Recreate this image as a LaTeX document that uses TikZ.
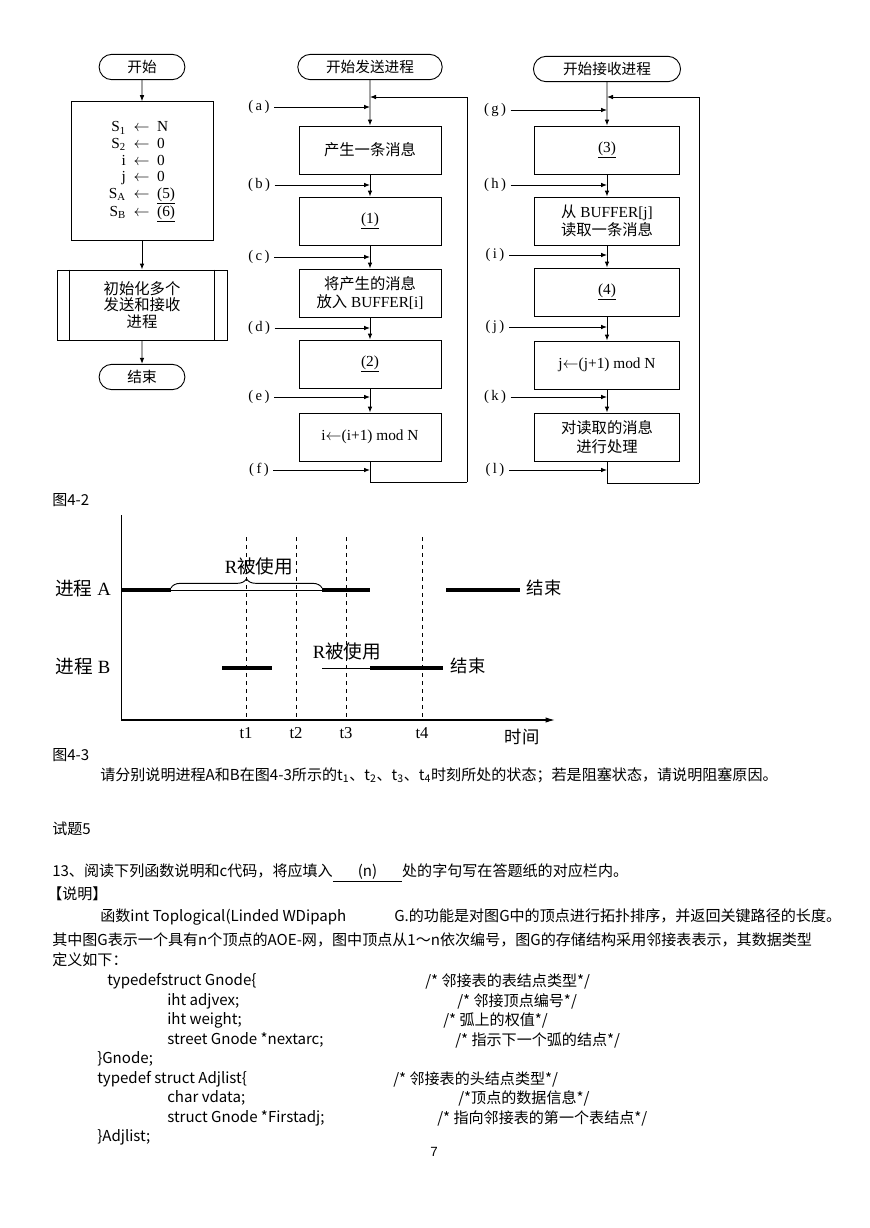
\documentclass[tikz,border=0pt]{standalone}
\usepackage{fontspec}
\setmainfont{Liberation Serif}
\newfontfamily\cjk{Noto Sans CJK SC}
\newfontfamily\pagefont{Liberation Sans}
\usetikzlibrary{arrows.meta,positioning,calc,shapes.misc,decorations.pathreplacing}

\begin{document}
\begin{tikzpicture}[x=0.75pt, y=-0.75pt,
  box/.style={draw, line width=0.7pt, minimum width=106.5pt, minimum height=36pt, align=center, font=\fontsize{11.5}{14}\selectfont},
  term/.style={draw, line width=0.7pt, rounded rectangle, minimum height=19pt, font=\cjk\fontsize{11}{12}\selectfont},
  lbl/.style={font=\fontsize{11}{12}\selectfont},
  arrow/.style={-{Latex[length=4.5pt,width=3.5pt]}, line width=0.7pt},
  line/.style={line width=0.7pt},
  txt/.style={anchor=west, inner sep=0pt, font=\cjk\fontsize{11.3}{13}\selectfont},
  thk/.style={line width=3pt},
  thn/.style={line width=0.6pt}
]
\fill[white] (0,0) rectangle (869,1228);
\useasboundingbox (0,0) rectangle (869,1228);

\node[term, minimum width=71pt] (st0) at (142,67) {开始};
\node[box, minimum height=104pt, font=\fontsize{11.5}{12.5}\selectfont] (init) at (142,171) {\begin{tabular}{@{}r@{\ \ }c@{\ \ }l@{}}
S\textsubscript{1} & $\leftarrow$ & N\\
S\textsubscript{2} & $\leftarrow$ & 0\\
i & $\leftarrow$ & 0\\
j & $\leftarrow$ & 0\\
S\textsubscript{A} & $\leftarrow$ & \underline{(5)}\\
S\textsubscript{B} & $\leftarrow$ & \underline{(6)}
\end{tabular}};
\node[box, minimum width=127.5pt, minimum height=52.5pt, font=\cjk\fontsize{11.5}{12.6}\selectfont] (setup) at (142,305) {初始化多个\\发送和接收\\进程};
\draw[line] ([xshift=9.75pt]setup.north west) -- ([xshift=9.75pt]setup.south west);
\draw[line] ([xshift=-9.75pt]setup.north east) -- ([xshift=-9.75pt]setup.south east);
\node[term, minimum width=71pt] (end0) at (142,377) {结束};
\draw[arrow] (st0) -- (init);
\draw[arrow] (init) -- (setup);
\draw[arrow] (setup) -- (end0);

\node[term, minimum width=115pt] (st1) at (370,67) {开始发送进程};
\node[box, font=\cjk\fontsize{11.5}{14}\selectfont] (send1) at (370,150) {产生一条消息};
\node[box] (send2) at (370,221) {\underline{(1)}};
\node[box] (send3) at (370,293) {{\cjk 将产生的消息}\\{\cjk 放入} BUFFER[i]};
\node[box] (send4) at (370,364) {\underline{(2)}};
\node[box] (send5) at (370,437) {i$\leftarrow$(i+1)\ mod N};
\draw[arrow] (st1) -- (send1);
\draw[arrow] (send1) -- (send2);
\draw[arrow] (send2) -- (send3);
\draw[arrow] (send3) -- (send4);
\draw[arrow] (send4) -- (send5);
\foreach \n/\y in {a/107,b/185,c/257,d/328,e/397,f/470} {
  \node[lbl] (l\n) at (259,\y) {(\,\n\,)};
  \coordinate (p\n) at (370,\y);
  \draw[arrow] (l\n) -- (p\n);
}
\coordinate (sbot) at (370,482);
\coordinate (scorner) at (467,482);
\coordinate (stop) at (370,97);
\draw[line] (send5) -- (sbot) -- (scorner);
\draw[arrow] (scorner) |- (stop);

\node[term, minimum width=117pt] (st2) at (607,69) {开始接收进程};
\node[box, minimum width=109pt] (recv1) at (607,150) {\underline{(3)}};
\node[box, minimum width=109pt] (recv2) at (607,221) {{\cjk 从} BUFFER[j]\\{\cjk 读取一条消息}};
\node[box, minimum width=109pt] (recv3) at (607,292) {\underline{(4)}};
\node[box, minimum width=109pt] (recv4) at (607,365) {j$\leftarrow$(j+1)\ mod N};
\node[box, minimum width=109pt, font=\cjk\fontsize{11.5}{14}\selectfont] (recv5) at (607,437) {对读取的消息\\进行处理};
\draw[arrow] (st2) -- (recv1);
\draw[arrow] (recv1) -- (recv2);
\draw[arrow] (recv2) -- (recv3);
\draw[arrow] (recv3) -- (recv4);
\draw[arrow] (recv4) -- (recv5);
\foreach \n/\y in {g/110,h/185,i/255,j/327,k/397,l/470} {
  \node[lbl] (l\n) at (495,\y) {(\,\n\,)};
  \coordinate (q\n) at (607,\y);
  \draw[arrow] (l\n) -- (q\n);
}
\coordinate (rbot) at (607,483);
\coordinate (rcorner) at (699,483);
\coordinate (rtop) at (607,97);
\draw[line] (recv5) -- (rbot) -- (rcorner);
\draw[arrow] (rcorner) |- (rtop);

\node[txt] (cap1) at (52,500) {图4-2};

\coordinate (orig) at (121,720);
\coordinate (ytop) at (121,515);
\coordinate (xend) at (555,720);
\draw[line] (ytop) -- (orig);
\draw[-{Latex[length=7pt,width=4pt]}, line width=0.9pt] (orig) -- (xend);
\foreach \n/\x in {1/246,2/296,3/346,4/422} {
  \draw[dashed, line width=0.7pt] (\x,537) -- (\x,720);
  \node[font=\fontsize{12.5}{14}\selectfont] (t\n) at (\x,733) {t\n};
}
\node[font=\cjk\fontsize{13}{15}\selectfont] (timelbl) at (522,737) {时间};
\node[font=\fontsize{14}{16}\selectfont] (procA) at (83,589) {{\cjk 进程} A};
\node[font=\fontsize{14}{16}\selectfont] (procB) at (83,667) {{\cjk 进程} B};
\draw[thk] (121,590) -- (171,590);
\draw[thn] (171,590) -- (322,590);
\draw[thk] (322,590) -- (370,590);
\draw[thk] (446,590) -- (520,590);
\node[anchor=west, font=\cjk\fontsize{13}{15}\selectfont] (endA) at (522,588) {结束};
\draw[line, decorate, decoration={brace, amplitude=7pt}] (171,588) -- (322,588);
\node[font=\fontsize{14}{16}\selectfont] (useA) at (259,566) {R{\cjk 被使用}};
\draw[thk] (222,668) -- (272,668);
\draw[thn] (322,668) -- (370,668);
\draw[thk] (370,668) -- (443,668);
\node[anchor=west, font=\cjk\fontsize{13}{15}\selectfont] (endB) at (446,666) {结束};
\node[font=\fontsize{14}{16}\selectfont] (useB) at (347,651) {R{\cjk 被使用}};

\node[txt] (cap2) at (52,755) {图4-3};
\node[txt] (q1) at (100,775) {请分别说明进程A和B在图4-3所示的t\textsubscript{1}、t\textsubscript{2}、t\textsubscript{3}、t\textsubscript{4}时刻所处的状态；若是阻塞状态，请说明阻塞原因。};
\node[txt] (sec5) at (52,829) {试题5};
\node[txt] (q13) at (52,873) {13、阅读下列函数说明和c代码，将应填入\underline{\makebox[52pt]{(n)}}处的字句写在答题纸的对应栏内。};
\node[txt] (note) at (47,894) {【说明】};
\node[txt] (para1) at (100,917) {函数int Toplogical(Linded WDipaph\hspace{36pt}G.的功能是对图G中的顶点进行拓扑排序，并返回关键路径的长度。};
\node[txt] (para2) at (52,940) {其中图G表示一个具有n个顶点的AOE-网，图中顶点从1～n依次编号，图G的存储结构采用邻接表表示，其数据类型};
\node[txt] (para3) at (52,960) {定义如下：};

\node[txt] (c1) at (107,981) {typedefstruct Gnode\{};
\node[txt] (k1) at (425,981) {/* 邻接表的表结点类型*/};
\node[txt] (c2) at (167,1001) {iht adjvex;};
\node[txt] (k2) at (457,1001) {/* 邻接顶点编号*/};
\node[txt] (c3) at (167,1020) {iht weight;};
\node[txt] (k3) at (443,1020) {/* 弧上的权值*/};
\node[txt] (c4) at (167,1040) {street Gnode *nextarc;};
\node[txt] (k4) at (455,1040) {/* 指示下一个弧的结点*/};
\node[txt] (c5) at (97,1059) {\}Gnode;};
\node[txt] (c6) at (97,1079) {typedef struct Adjlist\{};
\node[txt] (k6) at (393,1079) {/* 邻接表的头结点类型*/};
\node[txt] (c7) at (167,1098) {char vdata;};
\node[txt] (k7) at (458,1098) {/*顶点的数据信息*/};
\node[txt] (c8) at (167,1118) {struct Gnode *Firstadj;};
\node[txt] (k8) at (437,1118) {/* 指向邻接表的第一个表结点*/};
\node[txt] (c9) at (97,1137) {\}Adjlist;};
\node[font=\pagefont\fontsize{10}{12}\selectfont] (pageno) at (434,1152) {7};
\end{tikzpicture}
\end{document}
